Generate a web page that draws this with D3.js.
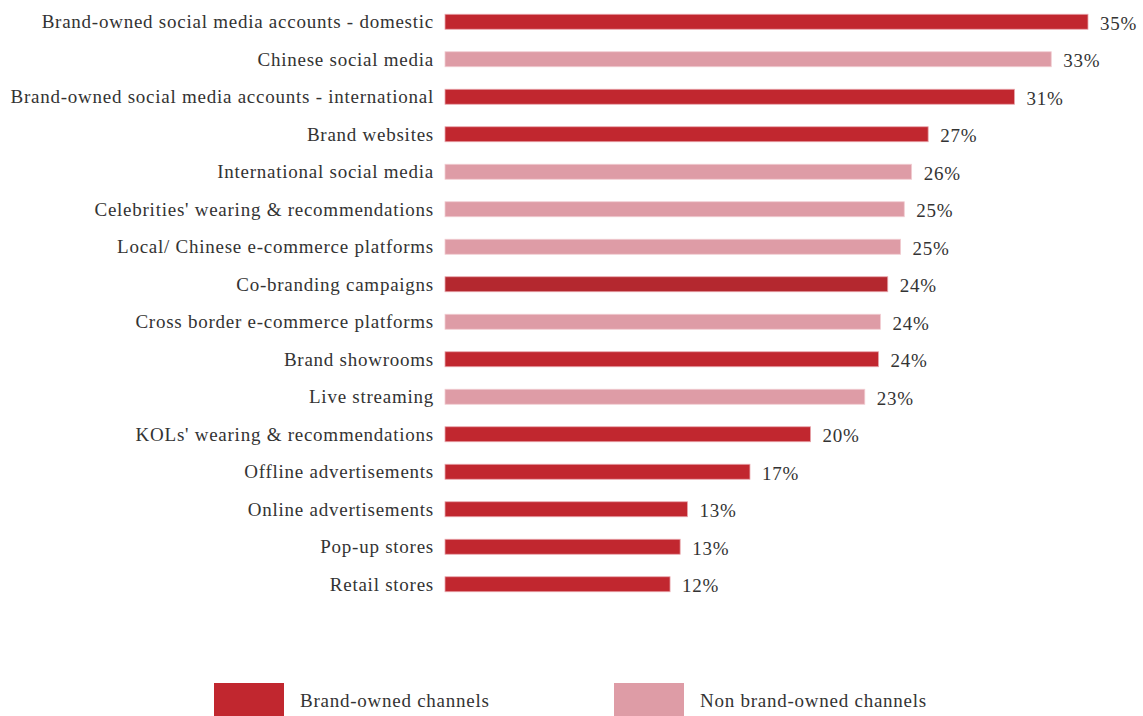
<!DOCTYPE html>
<html>
<head>
<meta charset="utf-8">
<script src="https://cdn.jsdelivr.net/npm/d3@7"></script>
<style>
  html, body { margin: 0; padding: 0; background: #ffffff; }
  svg { display: block; }
  text { font-family: "Liberation Serif", "DejaVu Serif", serif; fill: #333333; letter-spacing: 0.75px; }
</style>
</head>
<body>
<svg id="chart" width="1143" height="716"></svg>
<script>
const categories = [
  "Brand-owned social media accounts - domestic",
  "Chinese social media",
  "Brand-owned social media accounts - international",
  "Brand websites",
  "International social media",
  "Celebrities' wearing & recommendations",
  "Local/ Chinese e-commerce platforms",
  "Co-branding campaigns",
  "Cross border e-commerce platforms",
  "Brand showrooms",
  "Live streaming",
  "KOLs' wearing & recommendations",
  "Offline advertisements",
  "Online advertisements",
  "Pop-up stores",
  "Retail stores"
];
const values = [35.0, 33.0, 31.0, 26.3, 25.4, 25.0, 24.8, 24.1, 23.7, 23.6, 22.85, 19.9, 16.6, 13.2, 12.8, 12.25];
const valueLabels = ["35%", "33%", "31%", "27%", "26%", "25%", "25%", "24%", "24%", "24%", "23%", "20%", "17%", "13%", "13%", "12%"];
const channelType = ["owned", "non", "owned", "owned", "non", "non", "non", "owned", "non", "owned", "non", "owned", "owned", "owned", "owned", "owned"];
const legendKeys = ["owned", "non"];
const legendLabels = ["Brand-owned channels", "Non brand-owned channels"];

const svg = d3.select("#chart");
const fillColor = d3.scaleOrdinal().domain(["owned", "non"]).range(["#c1272f", "#de9ca6"]);
const strokeColor = d3.scaleOrdinal().domain(["owned", "non"]).range(["#e8a7ad", "#f2cdd2"]);

const x0 = 445;
const x = d3.scaleLinear().domain([0, 35]).range([x0, 1088]);
const y = d3.scaleBand().domain(categories).range([3, 603]).paddingInner(0.6).paddingOuter(0.3);

const data = categories.map((c, i) => ({ c, v: values[i], l: valueLabels[i], t: channelType[i] }));

const g = svg.append("g");

g.selectAll("rect.bar").data(data).enter().append("rect")
  .attr("class", "bar")
  .attr("x", x0)
  .attr("y", d => y(d.c))
  .attr("width", d => x(d.v) - x0)
  .attr("height", y.bandwidth())
  .attr("fill", d => d.c === "Co-branding campaigns" ? "#b4282f" : fillColor(d.t))
  .attr("stroke", d => strokeColor(d.t))
  .attr("stroke-width", 0.8);

const fs = 19;
g.selectAll("text.cat").data(data).enter().append("text")
  .attr("class", "cat")
  .attr("x", 434)
  .attr("y", d => y(d.c) + y.bandwidth() / 2)
  .attr("dy", "0.33em")
  .attr("text-anchor", "end")
  .attr("font-size", fs)
  .text(d => d.c);

g.selectAll("text.val").data(data).enter().append("text")
  .attr("class", "val")
  .attr("x", d => x(d.v) + 12)
  .attr("y", d => y(d.c) + y.bandwidth() / 2)
  .attr("dy", "0.43em")
  .attr("font-size", fs)
  .text(d => d.l);

const legend = svg.append("g");
const lx = d3.scalePoint().domain(legendKeys).range([214, 614]);
legendKeys.forEach((k, i) => {
  legend.append("rect")
    .attr("x", lx(k)).attr("y", 683)
    .attr("width", 70).attr("height", 34)
    .attr("fill", fillColor(k));
  legend.append("text")
    .attr("x", lx(k) + 86).attr("y", 707)
    .attr("font-size", fs)
    .text(legendLabels[i]);
});
</script>
</body>
</html>
